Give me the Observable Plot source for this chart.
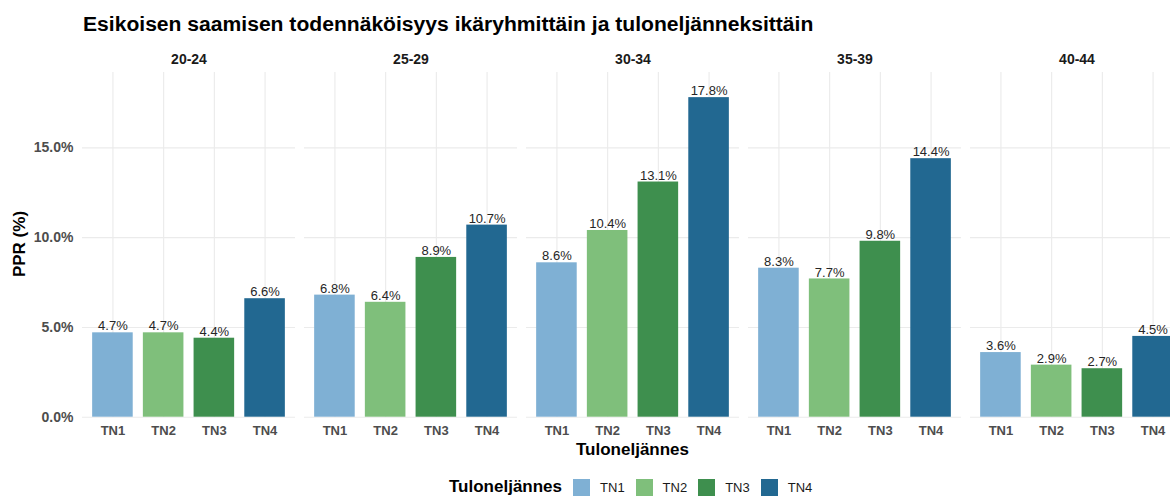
<!DOCTYPE html>
<html>
<head>
<meta charset="utf-8">
<script src="https://cdn.jsdelivr.net/npm/d3@7"></script>
<script src="https://cdn.jsdelivr.net/npm/@observablehq/plot@0.6"></script>
<style>
  html, body { margin: 0; padding: 0; background: #fff; overflow: hidden; }
  #wrap { position: relative; width: 1183px; height: 503px; overflow: hidden; font-family: "Liberation Sans", Arial, Helvetica, sans-serif; }
  #title { position: absolute; left: 83px; top: 13px; font-size: 21.1px; line-height: 21px; font-weight: bold; color: #000; white-space: nowrap; }
  #chart { position: absolute; left: 0; top: 40px; }
  #ylab { position: absolute; left: 19px; top: 244px; transform: translate(-50%, -50%) rotate(-90deg); font-size: 17px; line-height: 17px; font-weight: bold; color: #000; white-space: nowrap; }
  #xlab { position: absolute; left: 632.5px; top: 449px; transform: translate(-50%, -50%); font-size: 17px; line-height: 17px; font-weight: bold; color: #000; white-space: nowrap; }
  #legend { position: absolute; left: 449px; top: 478px; height: 18px; display: flex; align-items: center; white-space: nowrap; }
  #legend .lt { font-size: 17px; font-weight: bold; color: #000; margin-right: 11px; }
  #legend .sw { width: 17px; height: 17px; margin-right: 10px; }
  #legend .ll { font-size: 13px; color: #1a1a1a; margin-right: 11px; }
</style>
</head>
<body>
<div id="wrap">
  <div id="title"></div>
  <div id="chart"></div>
  <div id="ylab"></div>
  <div id="xlab"></div>
  <div id="legend"></div>
</div>
<script>
const titleText = "Esikoisen saamisen todennäköisyys ikäryhmittäin ja tuloneljänneksittäin";
const yTitle = "PPR (%)";
const xTitle = "Tuloneljännes";
const legendTitle = "Tuloneljännes";

const ages = ["20-24", "25-29", "30-34", "35-39", "40-44"];
const quartiles = ["TN1", "TN2", "TN3", "TN4"];
const tn1 = [4.7, 6.8, 8.6, 8.3, 3.6];
const tn2 = [4.7, 6.4, 10.4, 7.7, 2.9];
const tn3 = [4.4, 8.9, 13.1, 9.8, 2.7];
const tn4 = [6.6, 10.7, 17.8, 14.4, 4.5];
const yTicks = [0, 5, 10, 15];
const colors = ["#7fb0d4", "#7fbf7b", "#3e8f4e", "#226891"];

const series = [tn1, tn2, tn3, tn4];
const rows = [];
ages.forEach((a, i) => quartiles.forEach((q, j) => rows.push({age: a, q: q, v: series[j][i]})));

document.getElementById("title").textContent = titleText;
document.getElementById("ylab").textContent = yTitle;
document.getElementById("xlab").textContent = xTitle;

const fmt = d => d.toFixed(1) + "%";

const chart = Plot.plot({
  width: 1183,
  height: 425,
  marginLeft: 82,
  marginRight: 0,
  marginTop: 32,
  marginBottom: 48.3,
  style: {fontFamily: "'Liberation Sans', Arial, Helvetica, sans-serif", background: "transparent", overflow: "visible"},
  fx: {domain: ages, paddingInner: 9 / 222, paddingOuter: 0, round: false, axis: null, label: null},
  x: {domain: quartiles, paddingInner: 0.2, paddingOuter: 0.2, round: false, label: null},
  y: {domain: [0, 19.2], label: null},
  color: {domain: quartiles, range: colors},
  marks: [
    Plot.gridY(yTicks, {stroke: "#ebebeb", strokeOpacity: 1, strokeWidth: 1.1}),
    Plot.gridX({stroke: "#ebebeb", strokeOpacity: 1, strokeWidth: 1.1}),
    Plot.barY(rows, {fx: "age", x: "q", y: "v", fill: "q"}),
    Plot.text(rows, {fx: "age", x: "q", y: "v", text: d => fmt(d.v), dy: -6.6, lineAnchor: "middle", fontSize: 13, fill: "#262626"}),
    Plot.axisY(yTicks, {tickSize: 0, tickPadding: 9, tickFormat: fmt, fontSize: 14, fontWeight: "bold", fill: "#4d4d4d", label: null}),
    Plot.axisX({tickSize: 0, tickPadding: 9, fontSize: 13, fontWeight: "bold", fill: "#4d4d4d", label: null}),
    Plot.text(ages, {fx: d => d, frameAnchor: "top", dy: -13, text: d => d, fontSize: 14, fontWeight: "bold", fill: "#1a1a1a", lineAnchor: "middle"})
  ]
});
document.getElementById("chart").appendChild(chart);

const leg = document.getElementById("legend");
const lt = document.createElement("span");
lt.className = "lt";
lt.textContent = legendTitle;
leg.appendChild(lt);
quartiles.forEach((q, i) => {
  const sw = document.createElement("span");
  sw.className = "sw";
  sw.style.background = colors[i];
  leg.appendChild(sw);
  const ll = document.createElement("span");
  ll.className = "ll";
  ll.textContent = q;
  leg.appendChild(ll);
});
</script>
</body>
</html>
